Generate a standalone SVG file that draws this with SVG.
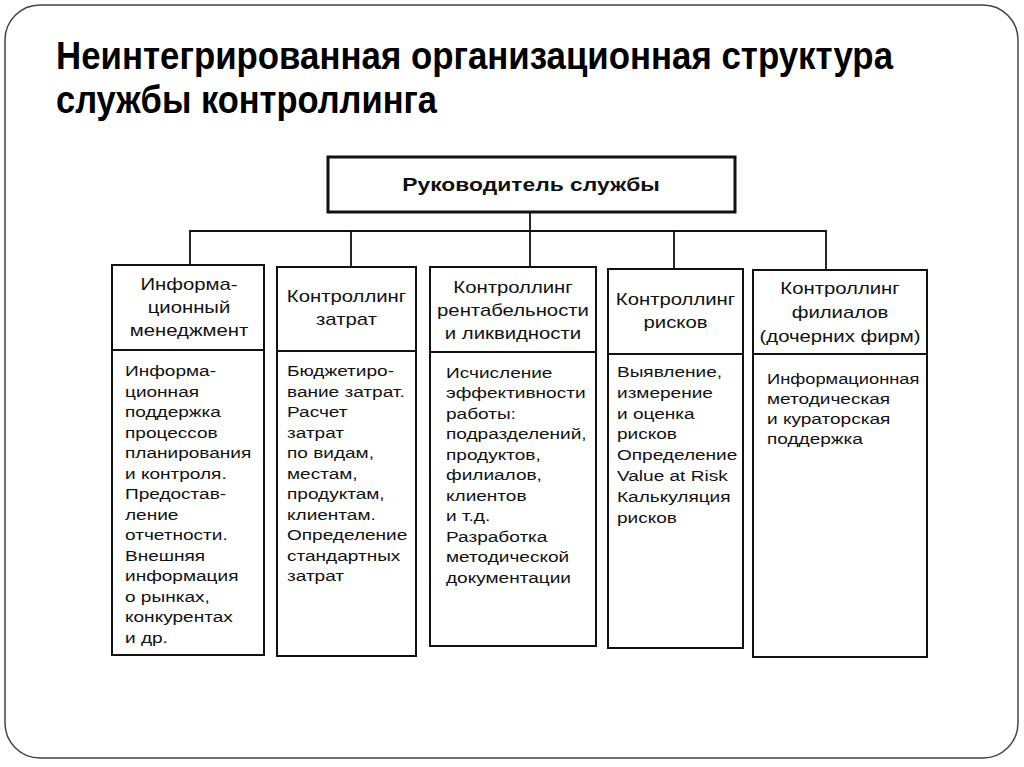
<svg xmlns="http://www.w3.org/2000/svg" width="1024" height="767" viewBox="0 0 1024 767">
<style>
.frame{fill:#fff;stroke:#444;stroke-width:1.5}
.box{fill:#fff;stroke:#111;stroke-width:2}
.top{fill:#fff;stroke:#111;stroke-width:3}
.conn{fill:none;stroke:#111;stroke-width:1.8}
.title{font-family:"Liberation Sans Narrow","Liberation Sans",sans-serif;font-weight:bold;font-size:38px;fill:#000}
.hdr{font-family:"Liberation Sans",Arial,sans-serif;font-size:16px;text-anchor:middle;fill:#111}
.body{font-family:"Liberation Sans",Arial,sans-serif;font-size:15px;fill:#111}
.boss{font-family:"Liberation Sans",Arial,sans-serif;font-size:18px;font-weight:bold;text-anchor:middle;fill:#111}
</style>
<rect width="1024" height="767" fill="#fff"/>
<rect class="frame" x="5" y="5" width="1013" height="753" rx="35" ry="35"/>
<g id="title">
<text class="title" x="56" y="69" textLength="837" lengthAdjust="spacingAndGlyphs">Неинтегрированная организационная структура</text>
<text class="title" x="56" y="113" textLength="381" lengthAdjust="spacingAndGlyphs">службы контроллинга</text>
</g>
<g id="connectors">
<line class="conn" x1="530" y1="212" x2="530" y2="267"/>
<polyline class="conn" points="190,265 190,231 826,231 826,270"/>
<line class="conn" x1="351" y1="231" x2="351" y2="267"/>
<line class="conn" x1="674" y1="231" x2="674" y2="269"/>
</g>
<g id="head">
<rect class="top" x="328" y="157" width="407" height="55"/>
<g transform="translate(531,0) scale(1.27,1)"><text class="boss" x="0" y="191">Руководитель службы</text></g>
</g>
<g id="col1">
<rect class="box" x="112" y="265" width="152" height="85"/>
<rect class="box" x="112" y="350" width="152" height="305"/>
<g transform="translate(189,0) scale(1.27,1)"><text class="hdr"><tspan x="0" y="290">Информа-</tspan><tspan x="0" y="313">ционный</tspan><tspan x="0" y="336">менеджмент</tspan></text></g>
<g transform="translate(125,0) scale(1.27,1)"><text class="body"><tspan x="0" y="376.5">Информа-</tspan><tspan x="0" y="397">ционная</tspan><tspan x="0" y="417.5">поддержка</tspan><tspan x="0" y="438">процессов</tspan><tspan x="0" y="458.5">планирования</tspan><tspan x="0" y="479">и контроля.</tspan><tspan x="0" y="499.5">Предостав-</tspan><tspan x="0" y="520">ление</tspan><tspan x="0" y="540.5">отчетности.</tspan><tspan x="0" y="561">Внешняя</tspan><tspan x="0" y="581.5">информация</tspan><tspan x="0" y="602">о рынках,</tspan><tspan x="0" y="622.5">конкурентах</tspan><tspan x="0" y="643">и др.</tspan></text></g>
</g>
<g id="col2">
<rect class="box" x="277" y="267" width="139" height="84"/>
<rect class="box" x="277" y="351" width="139" height="305"/>
<g transform="translate(346.5,0) scale(1.27,1)"><text class="hdr"><tspan x="0" y="302">Контроллинг</tspan><tspan x="0" y="325">затрат</tspan></text></g>
<g transform="translate(287,0) scale(1.27,1)"><text class="body"><tspan x="0" y="376.5">Бюджетиро-</tspan><tspan x="0" y="397">вание затрат.</tspan><tspan x="0" y="417.5">Расчет</tspan><tspan x="0" y="438">затрат</tspan><tspan x="0" y="458.5">по видам,</tspan><tspan x="0" y="479">местам,</tspan><tspan x="0" y="499.5">продуктам,</tspan><tspan x="0" y="520">клиентам.</tspan><tspan x="0" y="540.5">Определение</tspan><tspan x="0" y="561">стандартных</tspan><tspan x="0" y="581.5">затрат</tspan></text></g>
</g>
<g id="col3">
<rect class="box" x="430" y="267" width="166" height="85"/>
<rect class="box" x="430" y="352" width="166" height="294"/>
<g transform="translate(513,0) scale(1.27,1)"><text class="hdr"><tspan x="0" y="293">Контроллинг</tspan><tspan x="0" y="316">рентабельности</tspan><tspan x="0" y="339">и ликвидности</tspan></text></g>
<g transform="translate(446,0) scale(1.27,1)"><text class="body"><tspan x="0" y="378">Исчисление</tspan><tspan x="0" y="398.5">эффективности</tspan><tspan x="0" y="419">работы:</tspan><tspan x="0" y="439.5">подразделений,</tspan><tspan x="0" y="460">продуктов,</tspan><tspan x="0" y="480.5">филиалов,</tspan><tspan x="0" y="501">клиентов</tspan><tspan x="0" y="521.5">и т.д.</tspan><tspan x="0" y="542">Разработка</tspan><tspan x="0" y="562.5">методической</tspan><tspan x="0" y="583">документации</tspan></text></g>
</g>
<g id="col4">
<rect class="box" x="608" y="269" width="135" height="85"/>
<rect class="box" x="608" y="354" width="135" height="294"/>
<g transform="translate(675.5,0) scale(1.27,1)"><text class="hdr"><tspan x="0" y="305">Контроллинг</tspan><tspan x="0" y="328">рисков</tspan></text></g>
<g transform="translate(617,0) scale(1.27,1)"><text class="body"><tspan x="0" y="377">Выявление,</tspan><tspan x="0" y="397.8">измерение</tspan><tspan x="0" y="418.6">и оценка</tspan><tspan x="0" y="439.4">рисков</tspan><tspan x="0" y="460.2">Определение</tspan><tspan x="0" y="481">Value at Risk</tspan><tspan x="0" y="501.8">Калькуляция</tspan><tspan x="0" y="522.6">рисков</tspan></text></g>
</g>
<g id="col5">
<rect class="box" x="753" y="270" width="174" height="84"/>
<rect class="box" x="753" y="354" width="174" height="303"/>
<g transform="translate(840,0) scale(1.27,1)"><text class="hdr"><tspan x="0" y="294">Контроллинг</tspan><tspan x="0" y="318">филиалов</tspan><tspan x="0" y="342">(дочерних фирм)</tspan></text></g>
<g transform="translate(767,0) scale(1.27,1)"><text class="body"><tspan x="0" y="384" textLength="120" lengthAdjust="spacingAndGlyphs">Информационная</tspan><tspan x="0" y="404">методическая</tspan><tspan x="0" y="424">и кураторская</tspan><tspan x="0" y="444">поддержка</tspan></text></g>
</g>
</svg>
